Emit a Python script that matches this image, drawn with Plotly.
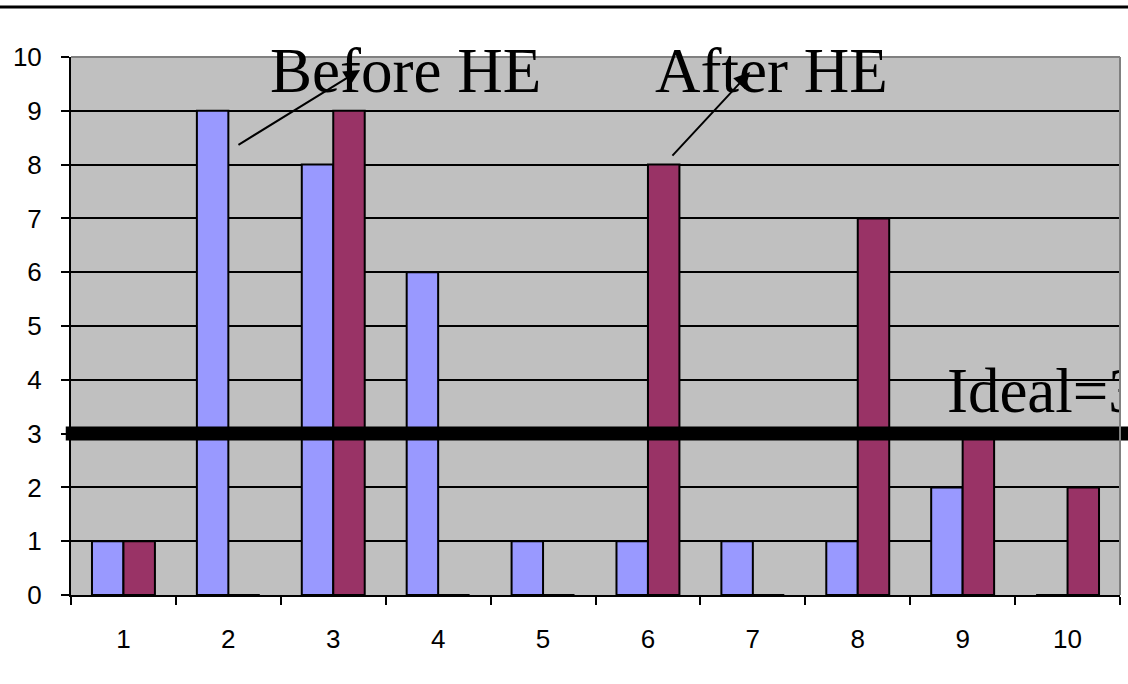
import plotly.graph_objects as go

categories = [1, 2, 3, 4, 5, 6, 7, 8, 9, 10]
tick_labels = ["1", "2", "3", "4", "5", "6", "7", "8", "9", "10"]
before_he = [1, 9, 8, 6, 1, 1, 1, 1, 2, 0]
after_he = [1, 0, 9, 0, 0, 8, 0, 7, 3, 2]
ideal = 3
boundaries = [c - 0.5 for c in categories] + [categories[-1] + 0.5]

fig = go.Figure()
fig.add_trace(go.Bar(x=categories, y=before_he, name="Before HE",
                     marker=dict(color="#9999FF", line=dict(color="black", width=2))))
fig.add_trace(go.Bar(x=categories, y=after_he, name="After HE",
                     marker=dict(color="#993366", line=dict(color="black", width=2))))
fig.add_trace(go.Scatter(x=[8.85], y=[ideal + 0.7], mode="text", text=["Ideal=3"],
                         textposition="middle right",
                         textfont=dict(family="Liberation Serif, Times New Roman, serif", size=63, color="black"),
                         showlegend=False, hoverinfo="skip"))

tickfont = dict(family="Liberation Sans, Arial, sans-serif", size=26, color="black")
fig.update_layout(
    width=1128, height=684,
    margin=dict(l=71, r=8, t=57, b=89),
    paper_bgcolor="white", plot_bgcolor="#C0C0C0",
    barmode="group", bargap=0.4, bargroupgap=0,
    showlegend=False,
    font=tickfont,
)
fig.update_xaxes(range=[0.5, 10.5], tickvals=categories, ticktext=tick_labels,
                 ticks="", showgrid=False, zeroline=False, tickfont=tickfont,
                 showline=True, linecolor="black", linewidth=2,
                 ticklabelstandoff=20,
                 minor=dict(tickvals=boundaries, ticks="outside", ticklen=8,
                            tickwidth=2, tickcolor="black", showgrid=False))
fig.update_yaxes(range=[0, 10], dtick=1, ticks="outside", ticklen=8, tickwidth=2,
                 tickcolor="black", showgrid=True, gridcolor="black", gridwidth=2,
                 zeroline=False, showline=True, linecolor="black", linewidth=2,
                 tickfont=tickfont, ticklabelstandoff=14)

# ideal line
fig.add_shape(type="line", xref="paper", yref="y", x0=-0.005, x1=1.01, y0=ideal, y1=ideal,
              line=dict(color="black", width=14), layer="above")
# plot border top/right (gray)
fig.add_shape(type="line", xref="paper", yref="paper", x0=0, x1=1, y0=1, y1=1,
              line=dict(color="#808080", width=2), layer="above")
fig.add_shape(type="line", xref="paper", yref="paper", x0=1, x1=1, y0=0, y1=1,
              line=dict(color="#808080", width=2), layer="above")
# top rule
fig.add_shape(type="line", xref="paper", yref="paper", x0=-0.1, x1=1.1, y0=1.093, y1=1.093,
              line=dict(color="black", width=3), layer="above")

serif = dict(family="Liberation Serif, Times New Roman, serif", size=63, color="black")
fig.add_annotation(x=3.684, y=9.74, xref="x", yref="y", text="Before HE", showarrow=False,
                   font=serif, xanchor="center", yanchor="middle")
fig.add_annotation(x=7.18, y=9.74, xref="x", yref="y", text="After HE", showarrow=False,
                   font=serif, xanchor="center", yanchor="middle")
fig.add_annotation(x=3.255, y=9.76, ax=2.082, ay=8.35, xref="x", yref="y", axref="x", ayref="y",
                   text="", showarrow=True, arrowhead=2, arrowsize=1.6, arrowwidth=2, arrowcolor="black")
fig.add_annotation(x=6.973, y=9.72, ax=6.22, ay=8.14, xref="x", yref="y", axref="x", ayref="y",
                   text="", showarrow=True, arrowhead=2, arrowsize=1.6, arrowwidth=2, arrowcolor="black")

fig.write_html("out.html", config={"displayModeBar": False},
               post_script="document.body.style.margin='0';")
